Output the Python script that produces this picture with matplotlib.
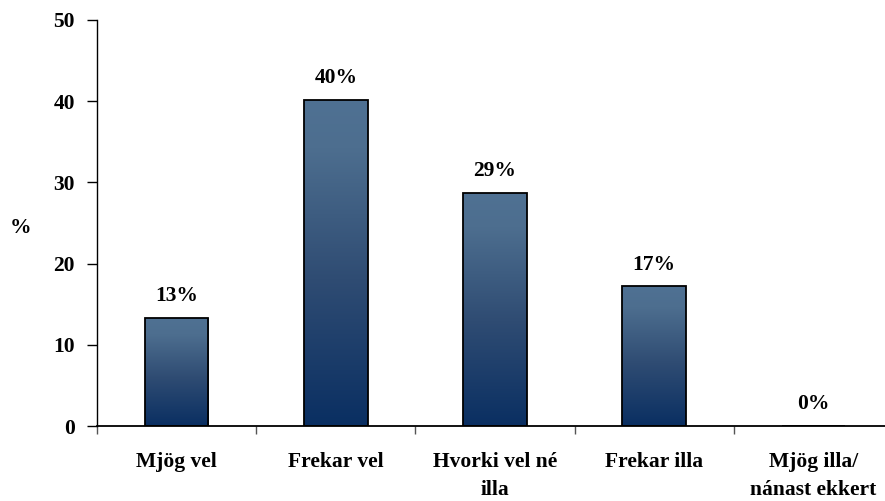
import matplotlib
matplotlib.use("Agg")
import matplotlib.pyplot as plt
import numpy as np
from matplotlib.colors import LinearSegmentedColormap

categories = ["Mjög vel", "Frekar vel", "Hvorki vel né\nilla", "Frekar illa", "Mjög illa/\nnánast ekkert"]
values = [13.3, 40.2, 28.7, 17.2, 0.0]
value_labels = ["13%", "40%", "29%", "17%", "0%"]
yticks = [0, 10, 20, 30, 40, 50]

plt.rcParams['font.family'] = ['Liberation Serif', 'DejaVu Serif']
plt.rcParams['font.weight'] = 'bold'
FS = 15.5

fig = plt.figure(figsize=(8.85, 5.01), dpi=100)
ax = fig.add_axes([97/885, 1-426/501, 796/885, 406/501])

x = np.arange(len(categories))
bars = ax.bar(x, values, width=0.4, color='none', edgecolor='black', linewidth=1.3, zorder=3)

cmap = LinearSegmentedColormap.from_list('g', [(0.0, '#0a2f62'), (0.45, '#2f4c73'), (0.85, '#4d6e8f'), (1.0, '#4f7193')])
grad = np.linspace(0, 1, 256).reshape(-1, 1)
for b in bars:
    h = b.get_height()
    if h <= 0:
        continue
    x0 = b.get_x()
    w = b.get_width()
    im = ax.imshow(grad, extent=[x0, x0 + w, 0, h], origin='lower', aspect='auto', cmap=cmap, zorder=2)
    im.set_clip_path(b)

for xi, v, lab in zip(x, values, value_labels):
    ax.annotate(lab, (xi, v), xytext=(0, 12), textcoords='offset points',
                ha='center', va='baseline', fontsize=FS, fontweight='bold')

ax.set_xlim(-0.5, len(categories) - 0.5)
ax.set_ylim(0, 50)
ax.set_yticks(yticks)
ax.set_yticklabels([str(t) for t in yticks], fontsize=FS, fontweight='bold')
ax.set_xticks(x)
ax.set_xticklabels(categories, fontsize=FS, fontweight='bold', linespacing=1.5)
ax.set_xticks(np.arange(-0.5, len(categories), 1), minor=True)
ax.tick_params(axis='x', which='major', length=0, pad=19)
ax.tick_params(axis='x', which='minor', length=6, width=1, direction='out', color='#555555')
ax.tick_params(axis='y', length=7, width=1, direction='out', pad=9)

for s in ['top', 'right']:
    ax.spines[s].set_visible(False)
ax.spines['left'].set_linewidth(1)
ax.spines['bottom'].set_linewidth(1.3)

fig.text(21/885, 1-228/501, "%", ha='center', va='center', fontsize=FS, fontweight='bold')

fig.savefig("out.png", dpi=100)
